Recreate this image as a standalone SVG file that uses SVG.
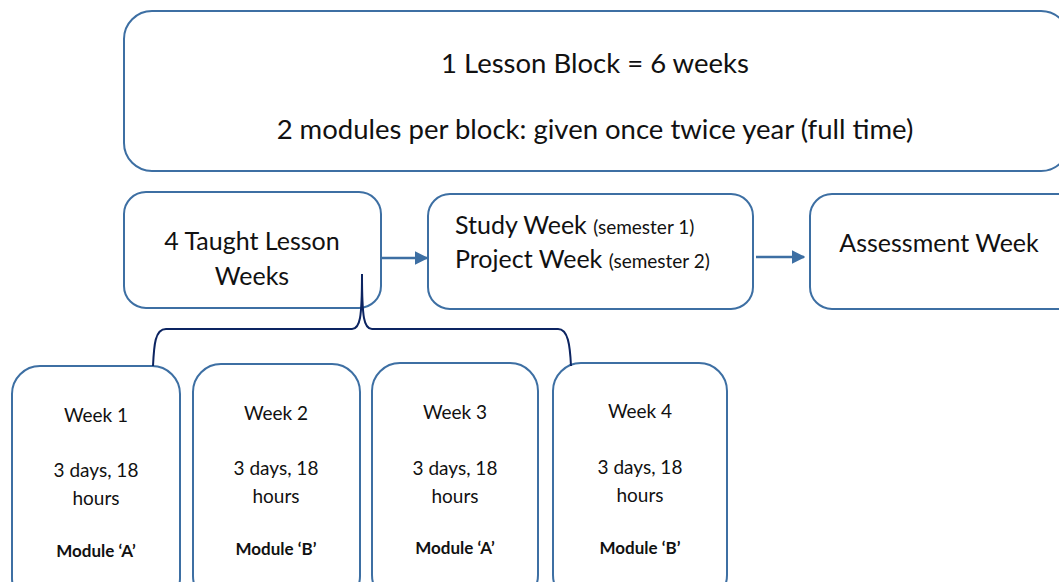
<svg xmlns="http://www.w3.org/2000/svg" width="1059" height="582" viewBox="0 0 1059 582">
<defs>
<style>
.box{fill:#fff;stroke:#3d6fa3;stroke-width:2}
.t{font-family:Lato,"Open Sans","Liberation Sans",sans-serif;fill:#111;text-anchor:middle}
.big{font-size:27.5px}
.mid{font-size:25px}
.sm{font-size:19px}
.wk{font-size:19px}
.mod{font-size:17px;font-weight:bold}
.conn{fill:none;stroke:#3d6fa3;stroke-width:2.5}
.brace{fill:none;stroke:#0c2461;stroke-width:2}
</style>
<marker id="ah" viewBox="0 0 10 10" refX="9" refY="5" markerWidth="5.5" markerHeight="6" orient="auto" markerUnits="strokeWidth">
<path d="M0 0 L10 5 L0 10 Z" fill="#3d6fa3"/>
</marker>
</defs>
<rect width="1059" height="582" fill="#fff"/>
<g id="block">
<rect class="box" x="124" y="11" width="945" height="160" rx="28"/>
<text class="t big" x="595" y="73">1 Lesson Block = 6 weeks</text>
<text class="t big" x="595" y="139">2 modules per block: given once twice year (full time)</text>
</g>
<g id="taught">
<rect class="box" x="124" y="192" width="257" height="116" rx="22"/>
<text class="t mid" x="252" y="250">4 Taught Lesson</text>
<text class="t mid" x="252" y="285">Weeks</text>
</g>
<g id="study">
<rect class="box" x="428" y="194" width="325" height="115" rx="22"/>
<text class="t mid" x="455" y="234" style="text-anchor:start">Study Week <tspan class="sm">(semester 1)</tspan></text>
<text class="t mid" x="455" y="268" style="text-anchor:start">Project Week <tspan class="sm">(semester 2)</tspan></text>
</g>
<g id="assess">
<rect class="box" x="810" y="194" width="270" height="115" rx="22"/>
<text class="t mid" x="939" y="252">Assessment Week</text>
</g>
<g id="week1">
<rect class="box" x="12" y="366" width="168" height="240" rx="28"/>
<text class="t wk" x="96" y="422">Week 1</text>
<text class="t wk" x="96" y="477">3 days, 18</text>
<text class="t wk" x="96" y="505">hours</text>
<text class="t mod" x="96" y="557">Module ‘A’</text>
</g>
<g id="week2">
<rect class="box" x="193" y="364" width="167" height="240" rx="28"/>
<text class="t wk" x="276" y="420">Week 2</text>
<text class="t wk" x="276" y="475">3 days, 18</text>
<text class="t wk" x="276" y="503">hours</text>
<text class="t mod" x="276" y="555">Module ‘B’</text>
</g>
<g id="week3">
<rect class="box" x="372" y="363" width="166" height="240" rx="28"/>
<text class="t wk" x="455" y="419">Week 3</text>
<text class="t wk" x="455" y="475">3 days, 18</text>
<text class="t wk" x="455" y="503">hours</text>
<text class="t mod" x="455" y="554">Module ‘A’</text>
</g>
<g id="week4">
<rect class="box" x="553" y="363" width="174" height="240" rx="28"/>
<text class="t wk" x="640" y="418">Week 4</text>
<text class="t wk" x="640" y="474">3 days, 18</text>
<text class="t wk" x="640" y="502">hours</text>
<text class="t mod" x="640" y="554">Module ‘B’</text>
</g>
<g id="connectors">
<line class="conn" x1="382" y1="258" x2="427" y2="258" marker-end="url(#ah)"/>
<line class="conn" x1="756" y1="257" x2="804" y2="257" marker-end="url(#ah)"/>
<path class="brace" d="M153 366 C154 345 155 329 166 329 L352 329 C360 329 362 318 362 274 M362 274 C362 318 364 329 372 329 L558 329 C568 329 570 345 571 366"/>
</g>
</svg>
